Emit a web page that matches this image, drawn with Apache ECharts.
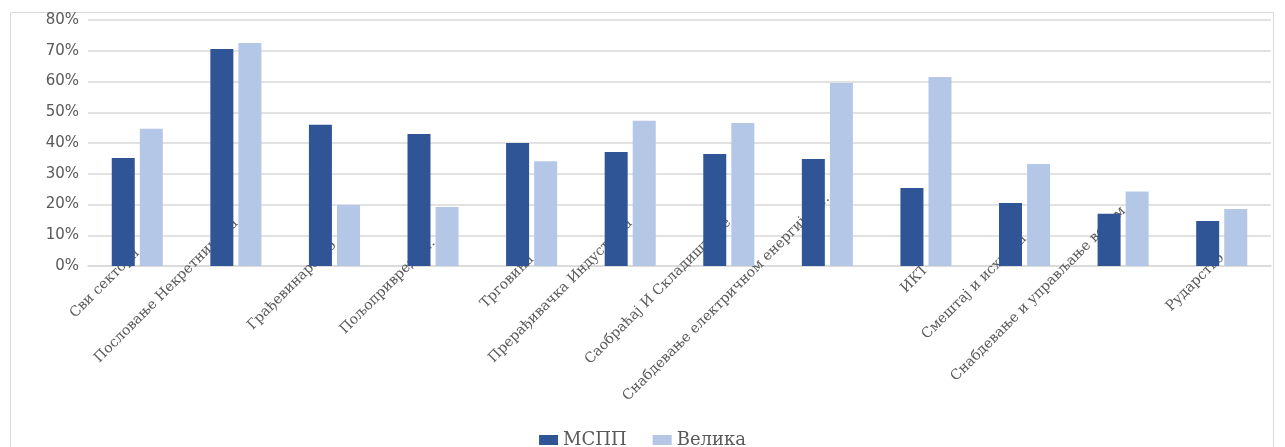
<!DOCTYPE html>
<html>
<head>
<meta charset="utf-8">
<script src="https://cdn.jsdelivr.net/npm/echarts@6/dist/echarts.min.js"></script>
<style>
html,body{margin:0;padding:0;background:#fff;}
#chart{width:1285px;height:447px;}
</style>
</head>
<body>
<div id="chart"></div>
<script>
const categories = [
  "Сви сектори",
  "Пословање Некретнинама",
  "Грађевинарство",
  "Пољопривреда ...",
  "Трговина",
  "Прерађивачка Индустрија",
  "Саобраћај И Складиштење",
  "Снабдевање електричном енергијом...",
  "ИКТ",
  "Смештај и исхрана",
  "Снабдевање и управљање водом",
  "Рударство"
];
const seriesNames = ["МСПП", "Велика"];
const msppValues = [35.1, 70.6, 45.9, 42.9, 40.0, 37.1, 36.4, 34.8, 25.4, 20.5, 17.0, 14.6];
const velikaValues = [44.6, 72.5, 19.8, 19.2, 34.1, 47.2, 46.5, 59.5, 61.5, 33.2, 24.2, 18.5];
const yTicks = { min: 0, max: 80, interval: 10 };

const LABEL_FONT_SIZE = 14;
const LABEL_FONT_FAMILY = 'DejaVu Serif';
const LABEL_COLOR = '#595959';
const measureCtx = document.createElement('canvas').getContext('2d');
measureCtx.font = LABEL_FONT_SIZE + "px '" + LABEL_FONT_FAMILY + "'";
// Excel-like placement: label centred on a line below the axis, right end at the category centre
const axisData = categories.map(function (name) {
  const L = measureCtx.measureText(name).width;
  const baseStyle = { fontFamily: LABEL_FONT_FAMILY, fontSize: LABEL_FONT_SIZE, color: LABEL_COLOR };
  return {
    value: name,
    textStyle: {
      align: 'center',
      verticalAlign: 'middle',
      rich: {
        v: Object.assign({ height: 16, lineHeight: 16 }, baseStyle),
        h: Object.assign({ width: Math.round(L * 0.6), height: 16, lineHeight: 16 }, baseStyle),
        s: Object.assign({ height: Math.round(L * 0.4), lineHeight: Math.round(L * 0.4) }, baseStyle)
      }
    }
  };
});

const chart = echarts.init(document.getElementById('chart'));
chart.setOption({
  animation: false,
  backgroundColor: '#ffffff',
  graphic: [{
    type: 'rect',
    z: -1,
    shape: { x: 10.5, y: 12.5, width: 1263, height: 450 },
    style: { fill: 'none', stroke: '#d9d9d9', lineWidth: 1 }
  }],
  grid: { left: 88, right: 14, top: 20, bottom: 181, outerBoundsMode: 'none' },
  legend: {
    data: seriesNames,
    left: 'center',
    top: 426,
    itemWidth: 19,
    itemHeight: 10,
    itemGap: 26,
    icon: 'rect',
    textStyle: { fontFamily: 'DejaVu Serif', fontSize: 18, color: '#595959' }
  },
  xAxis: {
    type: 'category',
    data: axisData,
    axisLine: { show: true, lineStyle: { color: '#d9d9d9', width: 1.5 } },
    axisTick: { show: false },
    axisLabel: {
      interval: 0,
      hideOverlap: false,
      rotate: 45,
      margin: 11,
      fontFamily: LABEL_FONT_FAMILY,
      fontSize: LABEL_FONT_SIZE,
      color: LABEL_COLOR,
      formatter: function (value) { return '{v|' + value + '}{h|}\n{s|}'; }
    }
  },
  yAxis: {
    type: 'value',
    min: yTicks.min,
    max: yTicks.max,
    interval: yTicks.interval,
    axisLine: { show: false },
    axisTick: { show: false },
    splitLine: { lineStyle: { color: '#d9d9d9', width: 1.5 } },
    axisLabel: {
      formatter: '{value}%',
      margin: 9,
      fontFamily: 'DejaVu Sans',
      fontSize: 15,
      color: '#595959'
    }
  },
  series: [
    {
      name: seriesNames[0],
      type: 'bar',
      data: msppValues,
      barWidth: 23,
      barGap: '22%',
      itemStyle: { color: '#2f5597' },
      z: 3
    },
    {
      name: seriesNames[1],
      type: 'bar',
      data: velikaValues,
      barWidth: 23,
      barGap: '22%',
      itemStyle: { color: '#b4c7e7' },
      z: 3
    }
  ]
});
</script>
</body>
</html>
